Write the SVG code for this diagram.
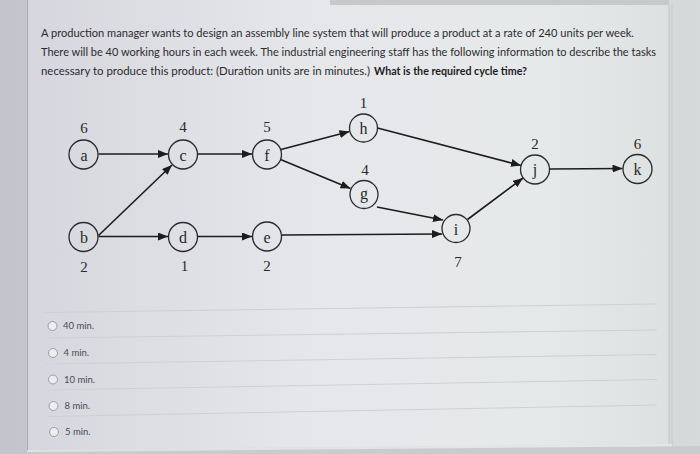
<svg xmlns="http://www.w3.org/2000/svg" width="700" height="454" viewBox="0 0 700 454">
  <defs>
    <linearGradient id="bgGrad" x1="0" y1="0" x2="1" y2="0">
      <stop offset="0" stop-color="#c4c5cc"/>
      <stop offset="1" stop-color="#d6dada"/>
    </linearGradient>
    <linearGradient id="cardGrad" x1="0" y1="0" x2="1" y2="0">
      <stop offset="0" stop-color="#d6d7de"/>
      <stop offset="0.45" stop-color="#e6e7eb"/>
      <stop offset="0.8" stop-color="#e6e9ea"/>
      <stop offset="1" stop-color="#dde1e2"/>
    </linearGradient>
    <marker id="arr" viewBox="0 0 10 8" refX="10" refY="4" markerWidth="10" markerHeight="8" markerUnits="userSpaceOnUse" orient="auto">
      <path d="M0,0 L10,4 L0,8 z" fill="#1c1c1c"/>
    </marker>
    <style>
      .q { font-family: Lato, "Liberation Sans", sans-serif; font-size: 11.8px; fill: #2b2b2e; }
      .qb { font-weight: bold; fill: #1c1c1e; }
      .node circle { fill: none; stroke: #2a2a2a; stroke-width: 1.3; }
      .lbl { font-family: "Liberation Serif", "DejaVu Serif", serif; font-size: 16px; fill: #2a2a2a; text-anchor: middle; }
      .dur { font-family: "Liberation Serif", "DejaVu Serif", serif; font-size: 15px; fill: #2a2a2a; text-anchor: middle; }
      .edge { stroke: #1c1c1c; stroke-width: 1.6; fill: none; marker-end: url(#arr); }
      .sep { stroke: #cdd1d4; stroke-width: 1; }
      .radio { fill: #eceef0; stroke: #9a9da2; stroke-width: 1; }
      .opt { font-family: Lato, "Liberation Sans", sans-serif; font-size: 9.5px; fill: #4a4a50; }
    </style>
  </defs>

  <!-- background -->
  <rect x="0" y="0" width="700" height="454" fill="url(#bgGrad)"/>
  <!-- card -->
  <polygon points="27,0 669,0 669,444 27,450" fill="url(#cardGrad)"/>
  <line x1="330" y1="2.5" x2="669" y2="2.5" stroke="#c6caca" stroke-width="5"/>
  <line x1="27.5" y1="0" x2="27.5" y2="450" stroke="#a9abb2" stroke-width="1"/>
  <line x1="669" y1="5" x2="669" y2="444" stroke="#c2c6c7" stroke-width="1"/>
  <line x1="672" y1="5" x2="672" y2="446" stroke="#c6cacb" stroke-width="1"/>
  <polygon points="27,450 672,444 672,447 27,454" fill="#f0f1f2" opacity="0.6"/>
  <polygon points="27,452 700,446 700,454 27,454" fill="#c9cccf"/>

  <!-- question text -->
  <g id="question">
    <text class="q" x="41" y="37" textLength="593" lengthAdjust="spacingAndGlyphs">A production manager wants to design an assembly line system that will produce a product at a rate of 240 units per week.</text>
    <text class="q" x="41" y="56" textLength="615" lengthAdjust="spacingAndGlyphs">There will be 40 working hours in each week. The industrial engineering staff has the following information to describe the tasks</text>
    <text class="q" x="41" y="75" textLength="329" lengthAdjust="spacingAndGlyphs">necessary to produce this product: (Duration units are in minutes.)</text>
    <text class="q qb" x="374" y="75" textLength="153" lengthAdjust="spacingAndGlyphs">What is the required cycle time?</text>
  </g>

  <!-- connectors -->
  <g id="connectors">
    <line class="edge" x1="98.5" y1="154" x2="168" y2="154"/>
    <line class="edge" x1="197.5" y1="154" x2="252" y2="154"/>
    <line class="edge" x1="281" y1="149.5" x2="349.5" y2="131.5"/>
    <line class="edge" x1="280.5" y1="159.5" x2="350.5" y2="188.5"/>
    <line class="edge" x1="98.5" y1="235.5" x2="172" y2="165"/>
    <line class="edge" x1="98.5" y1="236.5" x2="168" y2="236.5"/>
    <line class="edge" x1="197.5" y1="236.5" x2="252" y2="236.5"/>
    <line class="edge" x1="282" y1="235" x2="442" y2="234"/>
    <line class="edge" x1="377" y1="207" x2="443" y2="220"/>
    <line class="edge" x1="377.5" y1="128" x2="521" y2="165.5"/>
    <line class="edge" x1="467.5" y1="219.5" x2="523" y2="178"/>
    <line class="edge" x1="549.5" y1="169" x2="622.5" y2="168.5"/>
  </g>

  <!-- nodes -->
  <g id="node-a" class="node"><circle cx="83.5" cy="154.5" r="14.5"/><text class="lbl" x="84" y="160.5">a</text><text class="dur" x="84" y="133">6</text></g>
  <g id="node-c" class="node"><circle cx="183" cy="154.5" r="14.5"/><text class="lbl" x="183" y="160.5">c</text><text class="dur" x="183" y="132">4</text></g>
  <g id="node-f" class="node"><circle cx="267" cy="154.5" r="14.5"/><text class="lbl" x="267" y="160.5">f</text><text class="dur" x="267" y="132">5</text></g>
  <g id="node-h" class="node"><circle cx="363.5" cy="128" r="14"/><text class="lbl" x="363.5" y="134">h</text><text class="dur" x="363.5" y="108">1</text></g>
  <g id="node-g" class="node"><circle cx="364" cy="194.5" r="14"/><text class="lbl" x="364" y="199">g</text><text class="dur" x="365" y="175">4</text></g>
  <g id="node-b" class="node"><circle cx="83.5" cy="237" r="14.5"/><text class="lbl" x="84" y="243">b</text><text class="dur" x="84" y="272">2</text></g>
  <g id="node-d" class="node"><circle cx="183" cy="237" r="14.5"/><text class="lbl" x="183" y="243">d</text><text class="dur" x="184.5" y="271">1</text></g>
  <g id="node-e" class="node"><circle cx="267" cy="236.5" r="14.5"/><text class="lbl" x="267" y="242.5">e</text><text class="dur" x="267" y="271">2</text></g>
  <g id="node-i" class="node"><circle cx="456" cy="228.5" r="14"/><text class="lbl" x="456" y="234.5">i</text><text class="dur" x="458" y="267">7</text></g>
  <g id="node-j" class="node"><circle cx="535" cy="169.5" r="14.5"/><text class="lbl" x="535" y="175">j</text><text class="dur" x="535" y="149">2</text></g>
  <g id="node-k" class="node"><circle cx="637.5" cy="169" r="14.5"/><text class="lbl" x="637.5" y="175">k</text><text class="dur" x="637.5" y="149">6</text></g>

  <!-- options -->
  <g id="options">
    <line class="sep" x1="45" y1="312.5" x2="657" y2="304"/>
    <line class="sep" x1="45" y1="338" x2="657" y2="330"/>
    <line class="sep" x1="46" y1="364" x2="657" y2="354.5"/>
    <line class="sep" x1="47" y1="390" x2="657" y2="379.5"/>
    <line class="sep" x1="47" y1="416.5" x2="657" y2="405"/>
    <circle class="radio" cx="52.5" cy="326" r="4.5"/>
    <text class="opt" x="63" y="329">40 min.</text>
    <circle class="radio" cx="53" cy="353" r="4.5"/>
    <text class="opt" x="63.5" y="356">4 min.</text>
    <circle class="radio" cx="53" cy="379.5" r="4.5"/>
    <text class="opt" x="64" y="382.5">10 min.</text>
    <circle class="radio" cx="53.5" cy="406" r="4.5"/>
    <text class="opt" x="64.5" y="409">8 min.</text>
    <circle class="radio" cx="54" cy="432" r="4.5"/>
    <text class="opt" x="65" y="435">5 min.</text>
  </g>
</svg>
